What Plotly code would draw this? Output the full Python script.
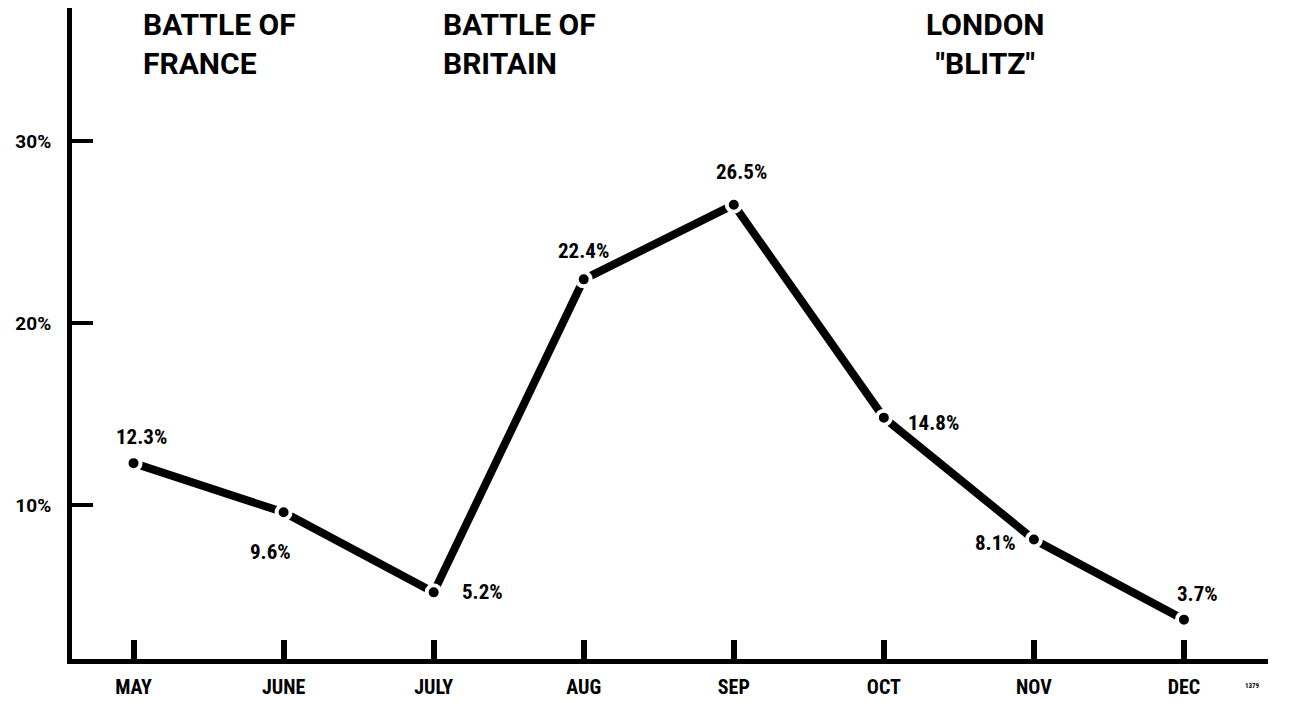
import plotly.graph_objects as go

months = ["MAY", "JUNE", "JULY", "AUG", "SEP", "OCT", "NOV", "DEC"]
values = [12.3, 9.6, 5.2, 22.4, 26.5, 14.8, 8.1, 3.7]
labels = ["12.3%", "9.6%", "5.2%", "22.4%", "26.5%", "14.8%", "8.1%", "3.7%"]
label_dx = [8, -13, 49, 0, 8, 50, -38, 14]
label_dy = [26, -40, 0, 28, 33, -5, -3, 26]
y_ticks = [10, 20, 30]
y_ticktext = ["10%", "20%", "30%"]
events = ["BATTLE OF<br>FRANCE", "BATTLE OF<br>BRITAIN", "LONDON<br>\"BLITZ\""]

FONT = "Roboto Condensed, Liberation Sans Narrow, DejaVu Sans Condensed, Roboto, sans-serif"
FONT_WIDE = "Roboto, Liberation Sans, sans-serif"
xs = list(range(len(months)))

# plot area in page pixels (page has an 8px body margin)
PL, PR, PT, PB = 72, 1268, 8, 659


def px_to_paper(x, y):
    return (x - PL) / (PR - PL), (PB - y) / (PB - PT)


fig = go.Figure()
fig.add_trace(go.Scatter(
    x=xs, y=values, mode="lines+markers",
    line=dict(color="black", width=8),
    marker=dict(color="black", size=14, line=dict(color="white", width=4)),
    hoverinfo="skip", showlegend=False,
))

for x, v, t, dx, dy in zip(xs, values, labels, label_dx, label_dy):
    fig.add_annotation(x=x, y=v, text="<b>" + t + "</b>", showarrow=False,
                       xshift=dx, yshift=dy, font=dict(family=FONT, size=21, color="black"))

event_pos = [(141, "left"), (441, "left"), (985, "center")]
for t, (px, anchor) in zip(events, event_pos):
    ax_, ay_ = px_to_paper(px, 5)
    fig.add_annotation(x=ax_, y=ay_, xref="paper", yref="paper",
                       xanchor=anchor, yanchor="top", align=anchor, showarrow=False,
                       text="<b>" + t + "</b>",
                       font=dict(family=FONT_WIDE, size=30, color="black"))

nx, ny = px_to_paper(1262, 692)
fig.add_annotation(x=nx, y=ny, xref="paper", yref="paper",
                   showarrow=False, text="<b>1379</b>", font=dict(family=FONT, size=7, color="black"))

fig.update_layout(
    width=1289, height=694,
    margin=dict(l=64, r=29, t=0, b=43, autoexpand=False),
    paper_bgcolor="white", plot_bgcolor="white",
    xaxis=dict(
        range=[-0.41, 7.56], tickmode="array", tickvals=xs,
        ticktext=["<b>" + m + "</b>" for m in months],
        showline=True, linecolor="black", linewidth=5,
        ticks="inside", ticklen=19, tickwidth=6, tickcolor="black",
        showgrid=False, zeroline=False, ticklabelstandoff=6,
        tickfont=dict(family=FONT, size=20, color="black"),
    ),
    yaxis=dict(
        range=[1.538, 37.31], tickmode="array", tickvals=y_ticks,
        ticktext=["<b>" + t + "</b>" for t in y_ticktext],
        showline=True, linecolor="black", linewidth=5,
        ticks="inside", ticklen=21, tickwidth=4, tickcolor="black",
        showgrid=False, zeroline=False, ticklabelstandoff=12,
        tickfont=dict(family=FONT_WIDE, size=19, color="black"),
    ),
)

fig.write_html("out.html")
